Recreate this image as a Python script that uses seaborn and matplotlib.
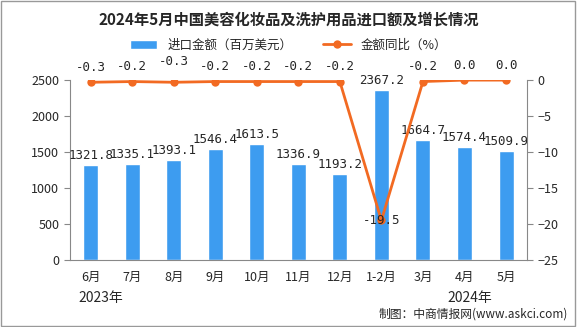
import numpy as np
import pandas as pd
import seaborn as sns
import matplotlib.pyplot as plt

months = ["6月", "7月", "8月", "9月", "10月", "11月", "12月", "1-2月", "3月", "4月", "5月"]
import_value = [1321.8, 1335.1, 1393.1, 1546.4, 1613.5, 1336.9, 1193.2, 2367.2, 1664.7, 1574.4, 1509.9]
yoy = [-0.3, -0.2, -0.3, -0.2, -0.2, -0.2, -0.2, -19.5, -0.2, 0.0, 0.0]

df = pd.DataFrame({"month": months, "value": import_value, "yoy": yoy})
df["pos"] = np.arange(len(df))

sns.set_style("white")
plt.rcParams['font.family'] = ['Noto Sans CJK SC', 'DejaVu Sans']

bar_color = "#3d9cf0"
line_color = "#f26a22"

fig = plt.figure(figsize=(5.77, 3.27), dpi=100)
ax = fig.add_axes([0.121, 0.205, 0.792, 0.55])

sns.barplot(data=df, x="month", y="value", color=bar_color, width=0.36,
            saturation=1, ax=ax, label="进口金额（百万美元）")
ax.set_ylim(0, 2500)
ax.set_xlim(-0.5, len(months) - 0.5)
ax.set_yticks(np.arange(0, 2501, 500))
ax.set_xlabel("")
ax.set_ylabel("")
for i, v in enumerate(import_value):
    ax.text(i, v + 40, f"{v:.1f}", ha="center", va="bottom", fontsize=9, family="DejaVu Sans Mono")

ax2 = ax.twinx()
sns.lineplot(data=df, x="pos", y="yoy", color=line_color, lw=2, marker="o",
             markersize=6, markeredgewidth=0, ax=ax2, label="金额同比（%）")
ax2.set_ylim(-25, 0)
ax2.set_yticks(np.arange(-25, 1, 5))
ax2.set_xlim(-0.5, len(months) - 0.5)
ax2.set_ylabel("")
ax2.set_xlabel("")
for i, v in enumerate(yoy):
    dy = 2.1 if v > -5 else 0
    if i == 2:
        dy = 2.9
    ax2.text(i, v + dy, f"{v:.1f}", ha="center", va="center", fontsize=9, family="DejaVu Sans Mono")

for a in (ax, ax2):
    for s in a.spines.values():
        s.set_visible(False)
ax.spines["left"].set_visible(True)
ax.spines["bottom"].set_visible(True)
ax2.spines["right"].set_visible(True)
for s in (ax.spines["left"], ax.spines["bottom"], ax2.spines["right"]):
    s.set_color("#888888")
    s.set_linewidth(0.8)

ax.set_xticks(np.arange(len(months)))
ax.set_xticklabels(months, fontsize=9)
ax.set_xticks(np.arange(-0.5, len(months), 1), minor=True)
ax.tick_params(axis="x", which="major", length=0, pad=8)
ax.tick_params(axis="x", which="minor", length=4, color="#888888", direction="out")
ax.tick_params(axis="y", length=4, color="#888888", direction="out", left=True, labelsize=9)
ax2.tick_params(axis="y", length=4, color="#888888", direction="out", right=True, labelsize=9)

h1, l1 = ax.get_legend_handles_labels()
h2, l2 = ax2.get_legend_handles_labels()
if ax.get_legend():
    ax.get_legend().remove()
if ax2.get_legend():
    ax2.get_legend().remove()
fig.legend(h1 + h2, l1 + l2, loc="center", bbox_to_anchor=(0.5, 0.862), ncol=2,
           frameon=False, fontsize=9, handlelength=2.2, columnspacing=2.5)

fig.text(0.5, 0.94, "2024年5月中国美容化妆品及洗护用品进口额及增长情况",
         ha="center", va="center", fontsize=11, fontweight="bold")
fig.text(0.175, 0.09, "2023年", ha="center", va="center", fontsize=10)
fig.text(0.815, 0.09, "2024年", ha="center", va="center", fontsize=10)
fig.text(0.985, 0.04, "制图：中商情报网(www.askci.com)", ha="right", va="center", fontsize=8.5)

fig.patches.append(plt.Rectangle((0.002, 0.003), 0.995, 0.994, transform=fig.transFigure,
                                 fill=False, edgecolor="#999999", linewidth=1))

fig.savefig("out.png", dpi=100)
